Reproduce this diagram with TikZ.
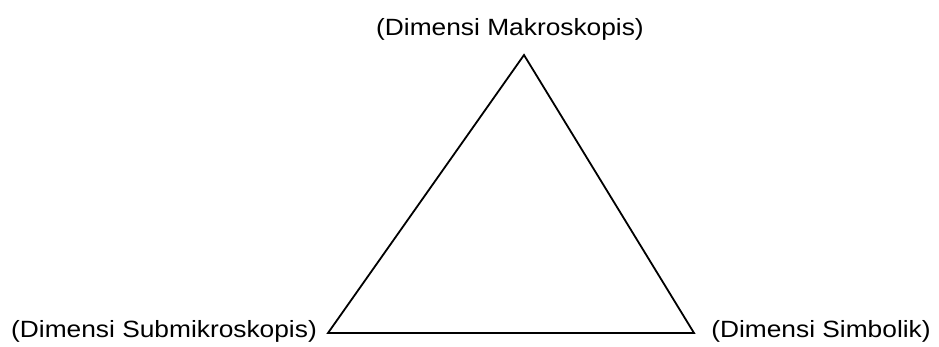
\documentclass[tikz,border=0pt]{standalone}
\usepackage{fontspec}
\setmainfont[FakeStretch=1.12]{Liberation Sans}
\begin{document}
\begin{tikzpicture}[x=1pt,y=-1pt,
  lbl/.style={inner sep=0pt,anchor=base,font=\fontsize{23.5}{27}\selectfont},
  edge/.style={draw=black,line width=1.8pt,line join=miter}]
\useasboundingbox (0,0) rectangle (939,347);
\coordinate (top) at (524,55);
\coordinate (bl) at (328,333);
\coordinate (br) at (694,333);
\draw[edge] (top) -- (br) -- (bl) -- cycle;
\node[lbl] (makro) at (510,36) {(Dimensi Makroskopis)};
\node[lbl] (submikro) at (164,337) {(Dimensi Submikroskopis)};
\node[lbl] (simbol) at (821,337) {(Dimensi Simbolik)};
\end{tikzpicture}
\end{document}
